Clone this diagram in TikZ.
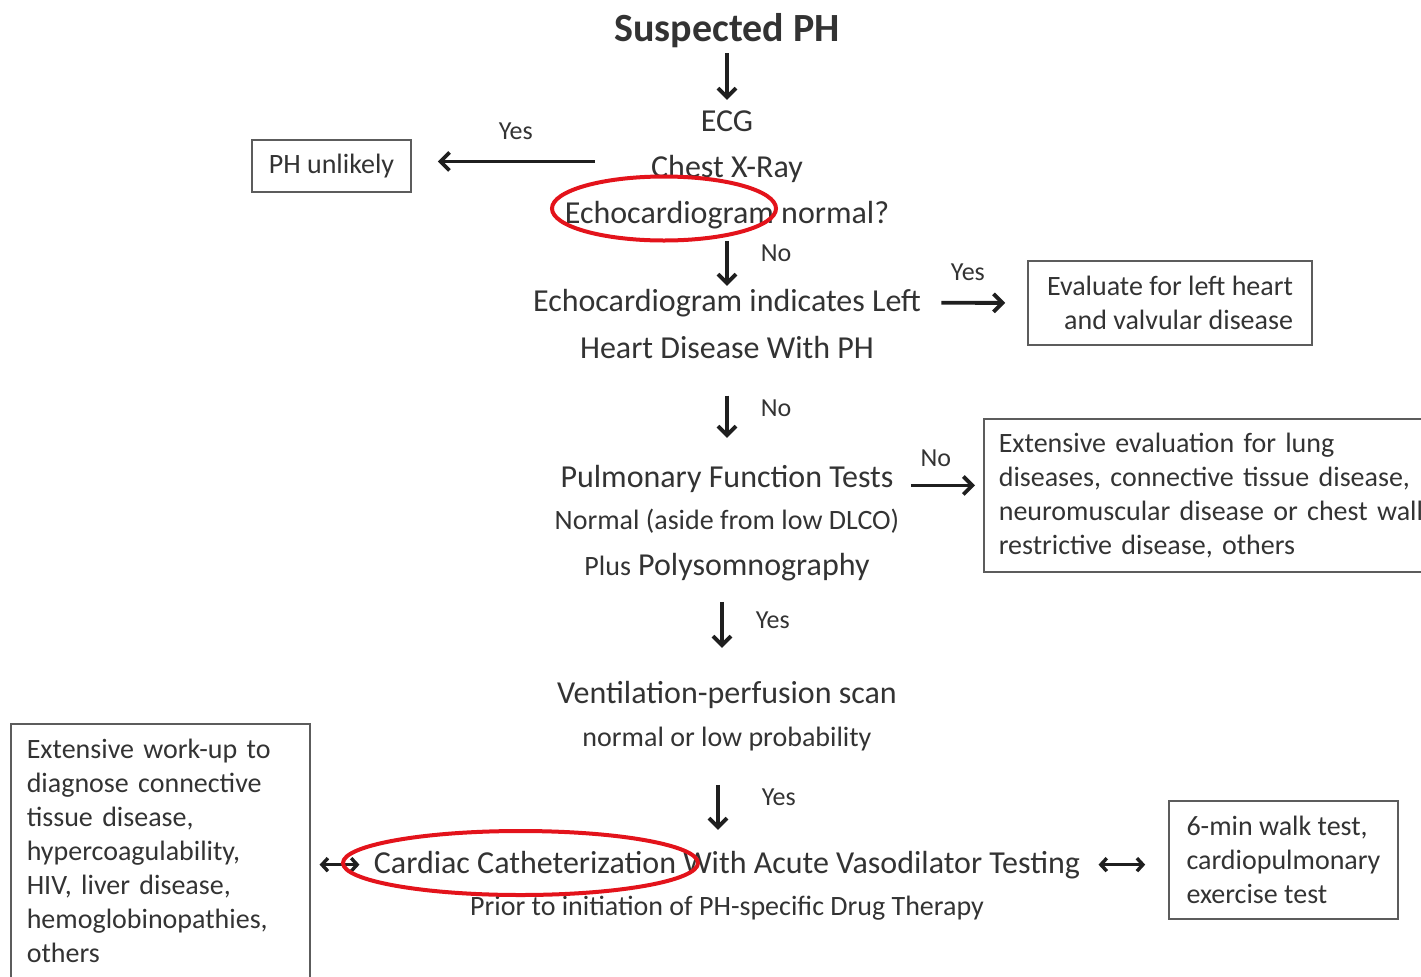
\documentclass[tikz,border=0pt]{standalone}
\usepackage{fontspec}
\setmainfont{Carlito}
\usepackage{tikz}
\usetikzlibrary{arrows.meta,positioning,calc}
\definecolor{phText}{HTML}{333333}
\definecolor{phFrame}{HTML}{5C5C5C}
\definecolor{phArrow}{HTML}{1F1F1F}
\definecolor{phRed}{HTML}{E3131B}

\begin{document}
\begin{tikzpicture}[x=0.5pt, y=-0.5pt,
  maintxt/.style={anchor=base, inner sep=0pt, text=phText, font=\fontsize{16}{19}\selectfont},
  subtxt/.style={maintxt, font=\fontsize{14}{17}\selectfont},
  box/.style={draw=phFrame, line width=0.8pt, text=phText, font=\fontsize{14}{17}\selectfont,
    inner xsep=8pt, inner ysep=7pt},
  lbl/.style={text=phText, font=\fontsize{13}{15}\selectfont, inner sep=1pt},
  arr/.style={-{Straight Barb[length=4.5pt,width=9pt]}, line width=1.9pt, phArrow},
  dbl/.style={{Straight Barb[length=3pt,width=6.5pt]}-{Straight Barb[length=3pt,width=6.5pt]},
    line width=1.7pt, phArrow},
  redring/.style={draw=phRed, line width=2pt}
]
  \useasboundingbox (0,0) rectangle (1421,976);

  % main column
  \node[maintxt, font=\bfseries\fontsize{20}{24}\selectfont] (susp) at (727,41) {Suspected PH};
  \node[maintxt] (ecg) at (727,131) {ECG};
  \node[maintxt] (xray) at (727,177) {Chest X-Ray};
  \node[maintxt] (echoNormal) at (727,223) {Echocardiogram normal?};
  \node[maintxt] (echoLeft) at (727,311) {Echocardiogram indicates Left};
  \node[maintxt] (heartPH) at (727,358) {Heart Disease With PH};
  \node[maintxt] (pft) at (727,487) {Pulmonary Function Tests};
  \node[subtxt] (pftNormal) at (727,529) {Normal (aside from low DLCO)};
  \node[maintxt] (psg) at (727,575) {{\fontsize{14}{17}\selectfont Plus} Polysomnography};
  \node[maintxt] (vq) at (727,703) {Ventilation-perfusion scan};
  \node[subtxt] (vqLow) at (727,746) {normal or low probability};
  \node[maintxt] (cath) at (727,873) {Cardiac Catheterization With Acute Vasodilator Testing};
  \node[subtxt] (priorRx) at (727,915) {Prior to initiation of PH-specific Drug Therapy};

  % side boxes
  \node[box, minimum width=79.5pt, minimum height=24.5pt] (unlikely) at (331.5,166) {PH unlikely};
  \node[box, align=right, minimum width=142pt, minimum height=42pt] (leftEval) at (1170,303)
    {Evaluate for left heart\\and valvular disease};
  \node[box, align=left, anchor=north west, text width=235pt, inner xsep=7.5pt, minimum height=76.5pt]
    (lungEval) at (983,418)
    {Extensive evaluation for lung\\diseases, connective tissue disease,\\neuromuscular disease or chest wall\\restrictive disease, others};
  \node[box, align=left, minimum width=114.5pt, minimum height=59pt] (walkTest) at (1283.5,860)
    {6-min walk test,\\cardiopulmonary\\exercise test};
  \node[box, align=left, anchor=north west, text width=133.5pt, inner ysep=7.7pt] (workup) at (10,723)
    {Extensive work-up to\\diagnose connective\\tissue disease,\\hypercoagulability,\\HIV, liver disease,\\hemoglobinopathies,\\others};

  % connectors
  \draw[arr, shorten <=2.8pt, shorten >=5pt] (susp) -- (ecg);
  \draw[arr, shorten <=28pt, shorten >=13pt] ([yshift=3.5pt]xray.west)
    -- node[lbl, above=9pt, pos=0.565] {Yes} ([yshift=3.5pt]xray.west -| unlikely.east);
  \draw[arr, shorten <=6pt, shorten >=1.3pt] (echoNormal)
    -- node[lbl, right=15pt, pos=0.41] {No} (echoLeft);
  \draw[arr, shorten <=10pt, shorten >=11pt] (echoLeft)
    -- node[lbl, above=9pt, pos=0.44] {Yes} (leftEval);
  \draw[arr, shorten <=18.5pt, shorten >=13.3pt] (heartPH)
    -- node[lbl, right=15pt, pos=0.47] {No} (pft);
  \draw[arr, shorten <=8.5pt, shorten >=4pt] ([yshift=-3.5pt]pft.east)
    -- node[lbl, above=7.5pt, pos=0.47] {No} ([yshift=-3.5pt]pft.east -| lungEval.west);
  \draw[arr, shorten <=10.5pt, shorten >=16.3pt] ([xshift=-2.5pt]psg.south)
    -- node[lbl, right=15pt, pos=0.4] {Yes} ([xshift=-2.5pt]vq.north);
  \draw[arr, shorten <=17pt, shorten >=10.3pt] ([xshift=-4.5pt]vqLow.south)
    -- node[lbl, right=20pt, pos=0.47] {Yes} ([xshift=-4.5pt]cath.north);
  \draw[dbl, shorten <=7pt, shorten >=4.5pt] (cath.west) -- (cath.west -| workup.east);
  \draw[dbl, shorten <=9pt, shorten >=11.5pt] (cath.east) -- (cath.east -| walkTest.west);

  % red marks
  \draw[redring] (664,208.5) ellipse [x radius=112, y radius=32];
  \draw[redring] (520.5,863) ellipse [x radius=177.5, y radius=32];
\end{tikzpicture}
\end{document}
